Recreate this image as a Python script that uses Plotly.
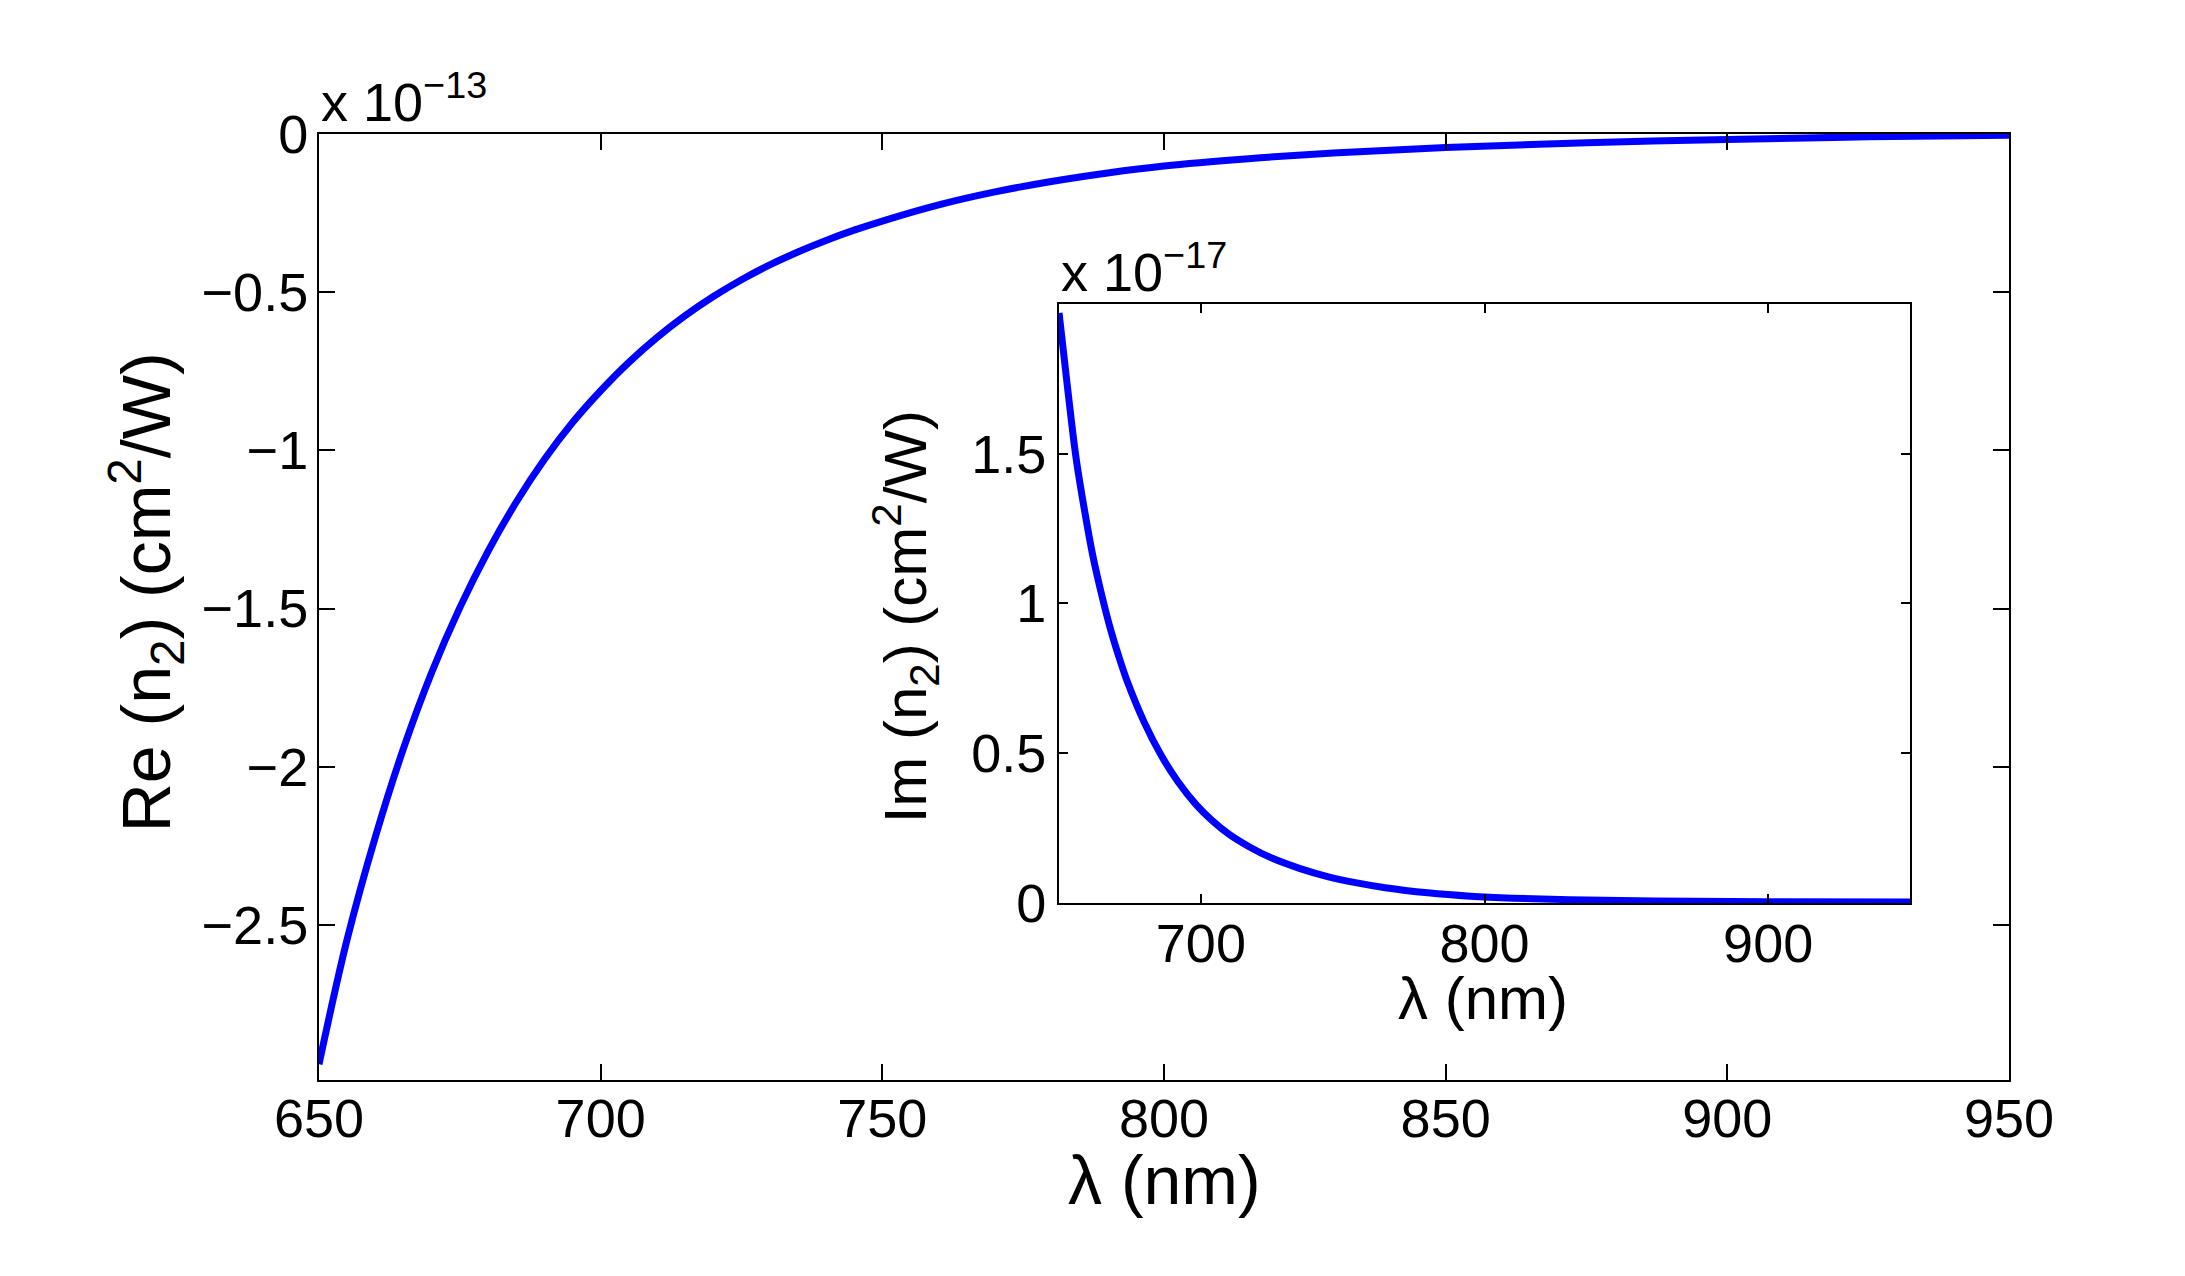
"""
Re(n2) vs wavelength with an Im(n2) inset, MATLAB-style figure.
"""

import plotly.graph_objects as go

# Main curve: Re(n2), in units of 1e-13 cm^2/W
re_wavelength = [650, 655, 660, 665, 670, 675, 680, 685, 690, 695, 700, 705, 710, 715,
                 720, 725, 730, 735, 740, 745, 750, 760, 770, 780, 790, 800, 815, 830,
                 850, 875, 900, 925, 950]
re_n2 = [-2.94, -2.545, -2.222, -1.942, -1.702, -1.497, -1.319, -1.164, -1.029, -0.912,
         -0.8115, -0.7217, -0.6431, -0.5742, -0.5138, -0.4607, -0.4139, -0.3727,
         -0.3363, -0.3039, -0.2751, -0.224, -0.183, -0.150, -0.123, -0.101, -0.078,
         -0.060, -0.043, -0.028, -0.017, -0.009, -0.004]

# Inset curve: Im(n2), in units of 1e-17 cm^2/W
im_wavelength = [650, 653, 656, 659, 662, 665, 668, 671, 674, 680, 686, 692, 698, 704,
                 710, 717, 725, 735, 745, 755, 765, 780, 795, 810, 830, 860, 900, 950]
im_n2 = [1.97, 1.72, 1.486, 1.31, 1.155, 1.03, 0.919, 0.825, 0.741, 0.604, 0.493,
         0.404, 0.332, 0.275, 0.229, 0.188, 0.150, 0.115, 0.0875, 0.067, 0.051,
         0.034, 0.0227, 0.016, 0.011, 0.007, 0.004, 0.003]

main_xticks = [650, 700, 750, 800, 850, 900, 950]
main_yticks = [-2.5, -2, -1.5, -1, -0.5, 0]
inset_xticks = [700, 800, 900]
inset_yticks = [0, 0.5, 1, 1.5]

FONT = "Liberation Sans, Arial, Helvetica, sans-serif"
BLUE = "#0000FF"

fig = go.Figure()

fig.add_trace(go.Scatter(
    x=re_wavelength, y=re_n2, mode='lines',
    line=dict(color=BLUE, width=7, shape='spline', smoothing=1.0),
    xaxis='x', yaxis='y', showlegend=False
))

fig.add_trace(go.Scatter(
    x=im_wavelength, y=im_n2, mode='lines',
    line=dict(color=BLUE, width=7, shape='spline', smoothing=1.0),
    xaxis='x2', yaxis='y2', showlegend=False
))

axis_common = dict(
    showline=True, linecolor='black', linewidth=2, mirror='allticks',
    ticks='inside', tickcolor='black', tickwidth=2,
    showgrid=False, zeroline=False,
    tickfont=dict(size=54, color='black', family=FONT),
)

# the page body adds an 8px offset, so margins are trimmed to match the reference box
fig.update_layout(
    width=2169, height=1260,
    margin=dict(l=311, r=168, t=126, b=188, pad=0),
    paper_bgcolor='white', plot_bgcolor='white',
    font=dict(family=FONT, color='black'),
    xaxis=dict(**axis_common, range=[650, 950], tickvals=main_xticks, ticklen=16,
               ticklabelstandoff=-10),
    yaxis=dict(**axis_common, range=[-2.99, 0], tickvals=main_yticks, ticklen=16,
               ticklabelstandoff=-2),
    xaxis2=dict(**axis_common, domain=[0.4379, 0.9414], anchor='y2',
                range=[650, 950], tickvals=inset_xticks, ticklen=9,
                ticklabelstandoff=-8),
    yaxis2=dict(**axis_common, domain=[0.1871, 0.8203], anchor='x2',
                range=[0, 2.0], tickvals=inset_yticks, ticklen=9),
)

# axis labels placed as annotations for exact positioning
labels = [
    dict(text="λ (nm)", x=0.5, y=-0.106, size=68, angle=0),
    dict(text="Re (n<sub>2</sub>) (cm<sup>2</sup>/W)", x=-0.1022, y=0.5159, size=68, angle=-90),
    dict(text="λ (nm)", x=0.6888, y=0.0860, size=60, angle=0),
    dict(text="Im (n<sub>2</sub>) (cm<sup>2</sup>/W)", x=0.3472, y=0.4899, size=60, angle=-90),
]
for lab in labels:
    fig.add_annotation(
        text=lab['text'], xref='paper', yref='paper', x=lab['x'], y=lab['y'],
        xanchor='center', yanchor='middle', textangle=lab['angle'], showarrow=False,
        borderpad=0, font=dict(size=lab['size'], color='black', family=FONT)
    )

# MATLAB-style exponent labels above each axes box
fig.add_annotation(
    text="x 10<sup>−13</sup>", xref='paper', yref='paper', x=0.0, y=1.0,
    xanchor='left', yanchor='bottom', showarrow=False,
    font=dict(size=54, color='black', family=FONT)
)
fig.add_annotation(
    text="x 10<sup>−17</sup>", xref='paper', yref='paper', x=0.4379, y=0.8203,
    xanchor='left', yanchor='bottom', showarrow=False,
    font=dict(size=54, color='black', family=FONT)
)

fig.write_html("out.html")
